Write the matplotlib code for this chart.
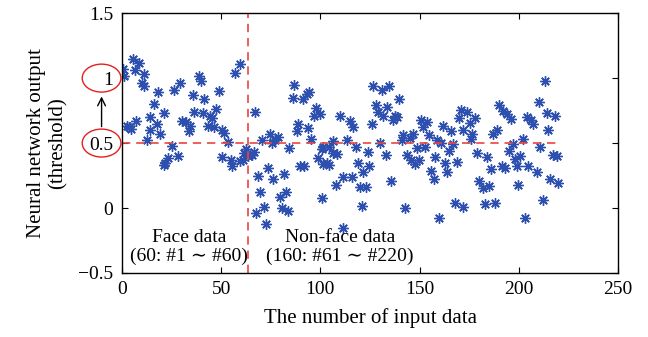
import numpy as np
import matplotlib
matplotlib.use("Agg")
import matplotlib.pyplot as plt
from matplotlib.patches import Ellipse

plt.rcParams['font.family'] = ['Liberation Serif', 'DejaVu Serif']
plt.rcParams['mathtext.fontset'] = 'stix'

# face data (#1 ~ #60)
face_x = [0.8, 1.3, 5.5, 8.5, 6.7, 11.4, 10.1, 11.0, 18.3, 16.3, 21.3, 14.4, 17.6,
          14.4, 19.3, 3.6, 2.6, 4.6, 7.2, 12.9, 25.2, 28.1, 23.2, 21.0, 21.8, 29.1,
          26.2, 30.1, 38.9, 39.8, 35.8, 41.6, 48.7, 57.1, 59.7, 36.6, 41.1, 44.4,
          47.5, 45.3, 32.5, 34.4, 33.6, 43.6, 46.5, 50.3, 51.7, 53.4, 50.7, 54.8,
          55.6, 59.3, 61.0, 62.6, 64.5, 65.7, 63.5, 66.5, 61.5]
face_y = [1.067, 1.015, 1.145, 1.12, 1.06, 1.03, 0.96, 0.94, 0.89, 0.80, 0.73, 0.70, 0.65,
          0.60, 0.57, 0.62, 0.63, 0.61, 0.67, 0.52, 0.48, 0.40, 0.385, 0.33, 0.35, 0.96,
          0.91, 0.67, 1.02, 0.98, 0.87, 0.84, 0.90, 1.04, 1.11, 0.74, 0.73, 0.71,
          0.765, 0.69, 0.66, 0.63, 0.59, 0.63, 0.62, 0.60, 0.58, 0.51, 0.39, 0.37,
          0.325, 0.365, 0.37, 0.455, 0.415, 0.41, 0.40, 0.43, 0.42]

# non-face data (#61 ~ #220)
nonface_x = [67.1, 68.5, 67.6,
             86.8, 86.0, 91.0, 93.4, 94.4, 97.7, 96.9, 99.8, 88.9, 88.0, 93.9, 95.4,
             74.7, 70.8, 77.2, 78.7, 75.8, 84.4, 100.8, 98.7, 101.3, 73.8, 75.9, 81.7,
             89.8, 91.8, 69.7, 79.7, 82.6, 100.7, 71.6, 80.6, 83.6, 72.7,
             109.9, 114.9, 116.6, 126.7, 130.9, 134.8, 127.9, 128.8, 131.7, 133.8, 136.4,
             125.9, 106.6, 101.5, 104.4, 108.3, 106.4, 103.3, 113.6, 118.0, 123.9, 129.8,
             133.1, 118.9, 124.7, 121.7, 111.6, 115.7, 108.0, 120.0, 123.0, 135.6, 120.8,
             111.6, 104.5,
             139.8, 137.6, 138.6, 150.7, 153.8, 151.9, 154.8, 162.0, 165.8, 170.7, 170.0,
             171.8, 141.8, 141.0, 145.0, 146.9, 148.9, 152.6, 158.6, 160.6, 166.6, 143.5,
             145.5, 147.5, 149.7, 157.8, 162.7, 165.0, 169.0, 155.8, 157.0, 164.0, 142.6,
             159.9, 167.9, 171.7,
             174.1, 177.9, 175.3, 176.4, 175.7, 190.0, 192.1, 194.1, 195.9, 187.1, 188.8,
             201.9, 203.9, 205.9, 207.2, 210.2, 213.1, 214.0, 218.2, 214.7, 210.8, 196.9,
             178.8, 184.1, 195.2, 197.8, 200.4, 199.2, 191.3, 193.0, 185.8, 204.8, 209.0,
             217.1, 219.0, 180.0, 181.7, 185.0, 199.7, 215.7, 219.6, 183.0, 188.0, 211.9,
             203.1]
nonface_y = [0.74, 0.25, -0.036,
             0.95, 0.85, 0.84, 0.88, 0.89, 0.77, 0.71, 0.72, 0.65, 0.59, 0.615, 0.53,
             0.566, 0.52, 0.52, 0.55, 0.50, 0.46, 0.455, 0.385, 0.34, 0.305, 0.22, 0.26,
             0.32, 0.32, 0.126, 0.085, 0.124, 0.075, 0.01, -0.003, -0.023, -0.12,
             0.705, 0.667, 0.62, 0.94, 0.91, 0.94, 0.79, 0.74, 0.705, 0.78, 0.675,
             0.65, 0.514, 0.47, 0.47, 0.415, 0.42, 0.345, 0.525, 0.47, 0.43, 0.50,
             0.41, 0.345, 0.325, 0.28, 0.24, 0.24, 0.175, 0.163, 0.163, 0.21, 0.015,
             -0.157, 0.33,
             0.837, 0.705, 0.70, 0.68, 0.66, 0.62, 0.56, 0.635, 0.59, 0.757, 0.695,
             0.60, 0.56, 0.52, 0.54, 0.566, 0.463, 0.47, 0.52, 0.50, 0.49, 0.41,
             0.37, 0.34, 0.37, 0.395, 0.345, 0.437, 0.357, 0.287, 0.227, 0.274, -0.003,
             -0.08, 0.036, 0.01,
             0.74, 0.695, 0.655, 0.57, 0.53, 0.796, 0.747, 0.72, 0.687, 0.566, 0.60,
             0.53, 0.70, 0.68, 0.643, 0.817, 0.977, 0.734, 0.71, 0.597, 0.473, 0.49,
             0.42, 0.39, 0.44, 0.377, 0.40, 0.325, 0.325, 0.31, 0.30, 0.32, 0.28,
             0.41, 0.40, 0.21, 0.157, 0.17, 0.178, 0.227, 0.19, 0.028, 0.036, 0.062,
             -0.08]

threshold = 0.5
split_x = 63.5
n_total = 220

fig = plt.figure(figsize=(6.48, 3.37), dpi=100)
ax = fig.add_axes([0.188, 0.19, 0.766, 0.771])

star = (8, 2, 0)
blue = '#2d4fae'
ax.plot(face_x, face_y, linestyle='none', marker=star, ms=7.5, mew=1.0, color=blue)
ax.plot(nonface_x, nonface_y, linestyle='none', marker=star, ms=7.5, mew=1.0, color=blue)

red = '#e8463f'
ax.plot([0, n_total], [threshold, threshold], '--', color=red, lw=1.2, dashes=(5, 3.5))
ax.plot([split_x, split_x], [-0.5, 1.5], '--', color=red, lw=1.2, dashes=(5, 3.5))

ax.set_xlim(0, 250)
ax.set_ylim(-0.5, 1.5)
ax.set_xticks([0, 50, 100, 150, 200, 250])
ax.set_yticks([-0.5, 0, 0.5, 1, 1.5])
ax.set_yticklabels(['\u22120.5', '0', '0.5', '1', '1.5'])
ax.tick_params(direction='in', length=4, width=0.8, labelsize=14, top=True, right=True, pad=6)
for s in ax.spines.values():
    s.set_linewidth(1.0)

ax.set_xlabel('The number of input data', fontsize=15, labelpad=7)
ax.set_ylabel('Neural network output\n(threshold)', fontsize=15, labelpad=8,
              linespacing=1.15)

ax.text(34, -0.30, 'Face data\n(60: #1 \u223c #60)', ha='center', va='center',
        fontsize=14, linespacing=1.1)
ax.text(110, -0.30, 'Non-face data\n(160: #61 \u223c #220)', ha='center', va='center',
        fontsize=14, linespacing=1.1)

# circles around threshold tick labels and arrow
for yy in [1.0, 0.5]:
    ax.add_patch(Ellipse((-10.2, yy), 19.5, 0.215, fill=False, edgecolor='#e32020',
                         lw=1.0, clip_on=False))
ax.annotate('', xy=(-10.2, 0.88), xytext=(-10.2, 0.605),
            arrowprops=dict(arrowstyle='->', color='k', lw=1.0, mutation_scale=14),
            annotation_clip=False)

fig.savefig('out.png', dpi=100)
